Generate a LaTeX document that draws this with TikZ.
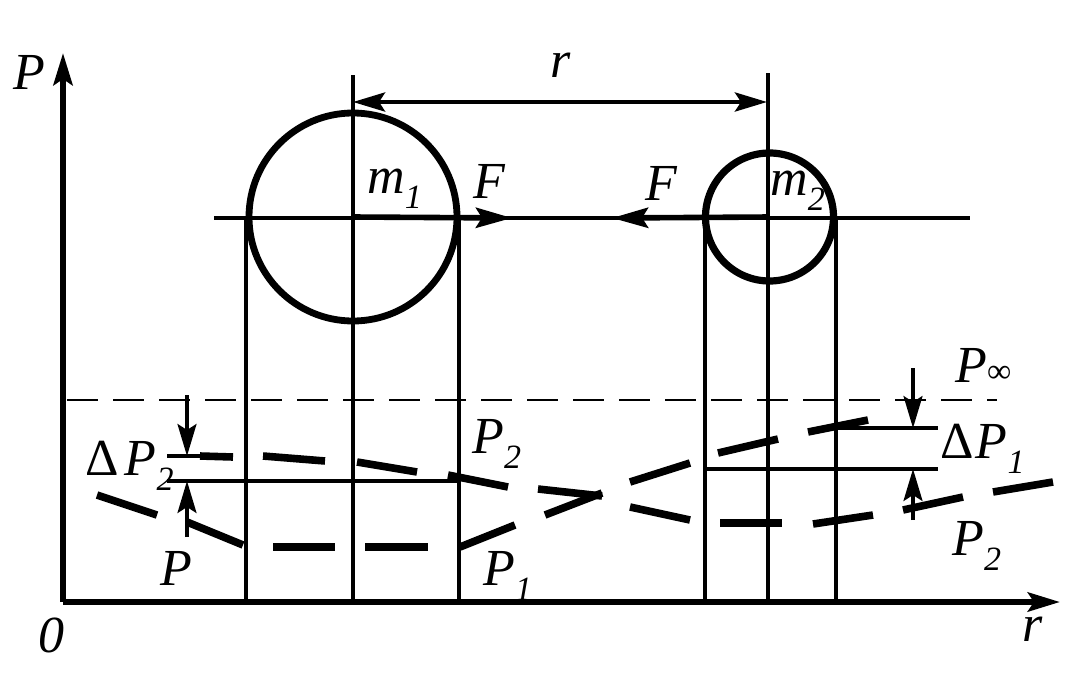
\documentclass[tikz,border=0pt]{standalone}
\usepackage{fontspec}
\setmainfont{LiberationSerif}[Extension=.ttf,UprightFont=*-Regular,ItalicFont=*-Italic,BoldFont=*-Bold,BoldItalicFont=*-BoldItalic]
\usetikzlibrary{arrows.meta}
\newcommand{\subs}[1]{\raisebox{-7.5pt}{\fontsize{17}{20}\selectfont\itshape #1}}
\begin{document}
\begin{tikzpicture}[x=0.5pt,y=-0.5pt,
  lab/.style={inner sep=0pt,anchor=base west,font=\fontsize{26}{30}\selectfont\itshape},
  thinln/.style={line width=1.6pt},
  axisln/.style={line width=3pt},
  curvedash/.style={line width=3.8pt,line cap=butt},
  tipA/.style={-{Stealth[length=16pt,width=9.5pt,inset=3pt]}},
  tipAB/.style={{Stealth[length=16pt,width=9.5pt,inset=3pt]}-{Stealth[length=16pt,width=9.5pt,inset=3pt]}}]
\useasboundingbox (0,0) rectangle (1085,685);
% coordinates
\coordinate (O) at (63,602);
\coordinate (Ytip) at (63,53);
\coordinate (Xtip) at (1060,602);
\coordinate (C1) at (353,217);
\coordinate (C2) at (769.5,217);
% axes
\draw[axisln,tipA] (O) -- (Ytip);
\draw[axisln,tipA] (O) -- (Xtip);
% P infinity dashed line
\draw[line width=1.4pt,dash pattern=on 15.5pt off 7.5pt] (67,400) -- (997,400);
% vertical lines
\draw[thinln] (353,75) -- (353,602);
\draw[thinln] (768,73) -- (768,602);
\draw[thinln] (246,217) -- (246,602);
\draw[thinln] (459,217) -- (459,602);
\draw[thinln] (705,217) -- (705,602);
\draw[thinln] (836,217) -- (836,602);
% centre line
\draw[thinln] (214,218) -- (970,218);
% circles
\draw[line width=3.4pt] (C1) circle[radius=104];
\draw[line width=3.6pt] (C2) circle[radius=64];
% forces
\draw[line width=2.8pt,-{Stealth[length=18pt,width=10pt,inset=3pt]}] (C1) -- (512,218);
\draw[line width=2.8pt,-{Stealth[length=18pt,width=10pt,inset=3pt]}] (C2) -- (612,218);
% r dimension
\draw[line width=2.2pt,tipAB] (353,102) -- (767,102);
% level lines
\draw[thinln] (167,456) -- (200,456);
\draw[thinln] (167,481) -- (459,481);
\draw[thinln] (705,469) -- (938,469);
\draw[thinln] (836,428) -- (938,428);
% Delta P arrows
\draw[thinln,tipA] (187,395) -- (187,456);
\draw[thinln,tipA] (187,537) -- (187,481);
\draw[thinln,tipA] (913,368) -- (913,428);
\draw[thinln,tipA] (913,520) -- (913,469);
% curve A (P1)
\draw[curvedash] (97,495) -- (157,515);
\draw[curvedash] (187,522) -- (243,545);
\draw[curvedash] (273,547) -- (335,547);
\draw[curvedash] (365,547) -- (428,547);
\draw[curvedash] (460,547) -- (515,525);
\draw[curvedash] (545,515) -- (602,493);
\draw[curvedash] (630,482) -- (690,463);
\draw[curvedash] (718,453) -- (778,439);
\draw[curvedash] (808,432) -- (868,420);
% curve B (P2)
\draw[curvedash] (200,456) -- (233,457);
\draw[curvedash] (263,456) -- (325,461);
\draw[curvedash] (357,462) -- (417,472);
\draw[curvedash] (448,475) -- (508,487);
\draw[curvedash] (538,489) -- (602,496);
\draw[curvedash] (630,507) -- (690,520);
\draw[curvedash] (720,523) -- (782,523);
\draw[curvedash] (813,524) -- (873,515);
\draw[curvedash] (903,510) -- (963,497);
\draw[curvedash] (993,492) -- (1053,482);
% labels
\node[lab] (lP) at (13,89) {P};
\node[lab] (l0) at (38,652) {0};
\node[lab] (lrx) at (1022,641) {r};
\node[lab] (lrt) at (550,77) {r};
\node[lab] (lm1) at (367,193) {m\subs{1}};
\node[lab] (lF1) at (473,198) {F};
\node[lab] (lF2) at (645,200) {F};
\node[lab] (lm2) at (770,195) {m\subs{2}};
\node[lab] (lP2a) at (472,453) {P\subs{2}};
\node[lab] (lP1) at (483,585) {P\subs{1}};
\node[lab] (lPb) at (160,585) {P};
\node[lab] (lDP2) at (85,475) {{\upshape Δ}\kern3pt P\subs{2}};
\node[lab] (lDP1) at (940,458) {{\upshape Δ}\kern1pt P\subs{1}};
\node[lab] (lPinf) at (955,382) {P\kern0pt{\fontsize{17}{20}\selectfont\upshape ∞}};
\node[lab] (lP2b) at (952,555) {P\subs{2}};
\end{tikzpicture}
\end{document}
